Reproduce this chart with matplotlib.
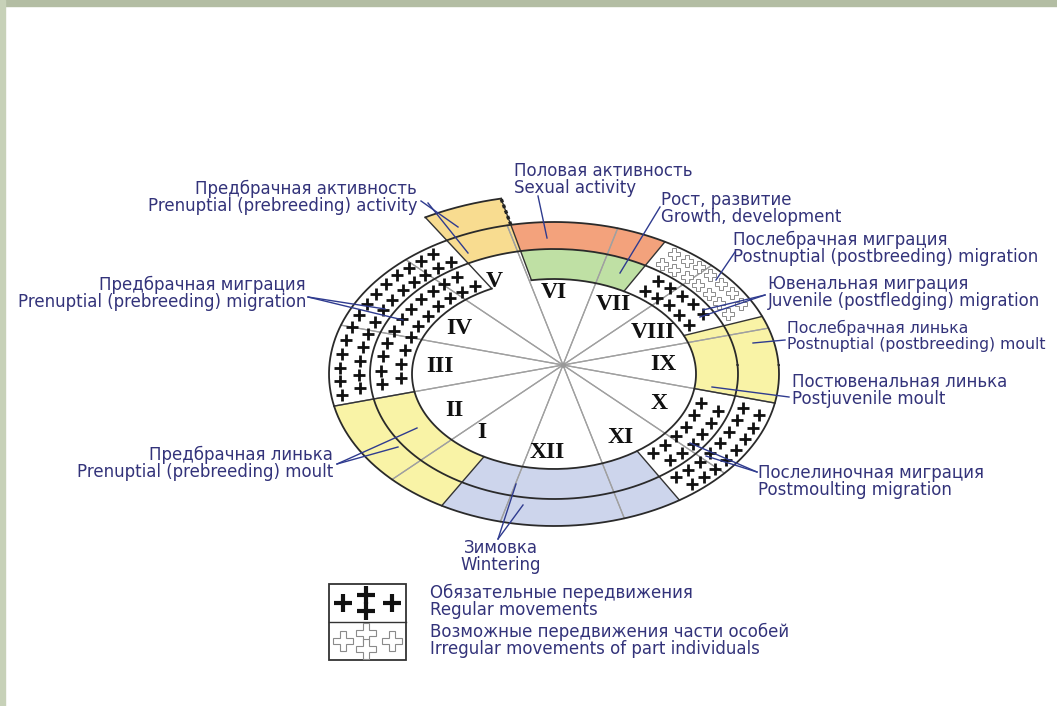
import numpy as np
import matplotlib
matplotlib.use('Agg')
import matplotlib.pyplot as plt
from matplotlib.patches import Polygon, Rectangle

# ---------------- data ----------------
months = ['I', 'II', 'III', 'IV', 'V', 'VI', 'VII', 'VIII', 'IX', 'X', 'XI', 'XII']
month_angles = [240, 210, 180, 150, 120, 90, 60, 30, 0, -30, -60, -90]

# ring 0 = inner ring, ring 1 = outer ring, ring 2 = protrusion beyond outer ring
seg_ring = [0, 0, 0, 0, 0, 0, 0,
            1, 1, 1, 1, 1, 1, 1, 1,
            2]
seg_start = [122, 195, 240, 300, 345, 20, 61,
             104, 122, 195, 240, 300, 345, 20, 61,
             104]
seg_end = [195, 240, 300, 345, 380, 61, 104,
           122, 195, 240, 300, 345, 380, 61, 104,
           122]
seg_kind = ['regular', 'moult', 'winter', 'regular', 'moult', 'regular', 'growth',
            'activity', 'regular', 'moult', 'winter', 'regular', 'moult', 'irregular', 'sexual',
            'activity']

kind_color = {'activity': '#f8dc90', 'moult': '#f9f3a6', 'winter': '#cdd5ec',
              'growth': '#bfe0a4', 'sexual': '#f3a27c', 'regular': '#ffffff',
              'irregular': '#ffffff'}

labels_ru = ['Половая активность', 'Рост, развитие', 'Предбрачная активность',
             'Предбрачная миграция', 'Послебрачная миграция', 'Ювенальная миграция',
             'Послебрачная линька', 'Постювенальная линька', 'Предбрачная линька',
             'Послелиночная миграция', 'Зимовка']
labels_en = ['Sexual activity', 'Growth, development', 'Prenuptial (prebreeding) activity',
             'Prenuptial (prebreeding) migration', 'Postnuptial (postbreeding) migration',
             'Juvenile (postfledging) migration', 'Postnuptial (postbreeding) moult',
             'Postjuvenile moult', 'Prenuptial (prebreeding) moult',
             'Postmoulting migration', 'Wintering']

legend_ru = ['Обязательные передвижения', 'Возможные передвижения части особей']
legend_en = ['Regular movements', 'Irregular movements of part individuals']

# ---------------- geometry ----------------
W, H = 1057, 706
fig = plt.figure(figsize=(W / 100, H / 100), dpi=100)
fig.patch.set_facecolor('white')
ax = fig.add_axes([0, 0, 1, 1])
ax.set_xlim(0, W)
ax.set_ylim(H, 0)
ax.axis('off')

HUB = (563.0, 365.0)
K = 0.67
CEN = (554.0, 374.0)
ELL = [(142.0, 95.0), (184.0, 125.0), (225.0, 152.0), (266.0, 179.0)]


def ray_point(theta, e):
    """Point where the ray from HUB at angle theta meets ellipse e (screen coords)."""
    a, b = e
    t = np.radians(theta)
    dx, dy = np.cos(t), -K * np.sin(t)
    p, q = (HUB[0] - CEN[0]) / a, (HUB[1] - CEN[1]) / b
    u, v = dx / a, dy / b
    A = u * u + v * v
    B = p * u + q * v
    C = p * p + q * q - 1
    s = (-B + np.sqrt(B * B - A * C)) / A
    return np.array([HUB[0] + s * dx, HUB[1] + s * dy])


def ring_pt(theta, ring, f):
    pin = ray_point(theta, ELL[ring])
    pout = ray_point(theta, ELL[ring + 1])
    return pin + f * (pout - pin)


def band_poly(t1, t2, ring):
    ts = np.linspace(t1, t2, 60)
    outer = [ring_pt(t, ring, 1.0) for t in ts]
    inner = [ring_pt(t, ring, 0.0) for t in ts[::-1]]
    return np.array(outer + inner)


def arc(e, t1, t2, **kw):
    ts = np.linspace(t1, t2, 200)
    pts = np.array([ray_point(t, e) for t in ts])
    ax.plot(pts[:, 0], pts[:, 1], **kw)


# frame (slide border)
ax.add_patch(Rectangle((0, 0), W, 6, color='#b3bda3', zorder=0))
ax.add_patch(Rectangle((0, 0), 5, H, color='#c7d1b8', zorder=0))

# colored segments
for r, s, e, k in zip(seg_ring, seg_start, seg_end, seg_kind):
    poly = band_poly(s, e, r)
    ax.add_patch(Polygon(poly, closed=True, facecolor=kind_color[k],
                         edgecolor='none', zorder=2))

# month spokes (through the rings)
for ang in month_angles:
    for d in (-15, 15):
        p = ray_point(ang + d, ELL[2])
        ax.plot([HUB[0], p[0]], [HUB[1], p[1]], color='#a0a0a0', lw=0.9, zorder=3)

# segment boundaries (radial)
for b in sorted(set(seg_start)):
    if b == 104 or b == 122:
        p1 = ray_point(b, ELL[1] if b == 104 else ELL[0])
        p2 = ray_point(b, ELL[3])
    else:
        p1 = ray_point(b, ELL[0])
        p2 = ray_point(b, ELL[2])
    ax.plot([p1[0], p2[0]], [p1[1], p2[1]], color='#333333', lw=1.0, zorder=4)
# green / orange left edge through the inner ring
p1, p2 = ray_point(104, ELL[0]), ray_point(104, ELL[1])
ax.plot([p1[0], p2[0]], [p1[1], p2[1]], color='#333333', lw=1.0, zorder=4)

# ruler-like right edge of the protrusion
p_a, p_b = ray_point(104, ELL[2]), ray_point(104, ELL[3])
ax.plot([p_a[0], p_b[0]], [p_a[1], p_b[1]], color='#222222', lw=2.4,
        ls=(0, (1.0, 0.8)), zorder=5)

# ellipse outlines (inner one left open under the V sector)
arc(ELL[0], 122, 104 + 360, color='#2a2a2a', lw=1.3, zorder=5)
for e in ELL[1:3]:
    arc(e, 0, 360, color='#2a2a2a', lw=1.3, zorder=5)
arc(ELL[3], 104, 122, color='#2a2a2a', lw=1.3, zorder=5)


# movement crosses
def crosses(t1, t2, ring, regular):
    pts = []
    for row, f in enumerate((0.27, 0.73)):
        tt = np.linspace(t1, t2, 300)
        P = np.array([ring_pt(t, ring, f) for t in tt])
        seg = np.r_[0, np.cumsum(np.hypot(*np.diff(P, axis=0).T))]
        step = 14.0
        start = step * (0.45 if row == 0 else 0.95)
        for L in np.arange(start, seg[-1] - 4, step):
            i = np.searchsorted(seg, L)
            pts.append(P[min(i, len(P) - 1)])
    pts = np.array(pts)
    if regular:
        ax.plot(pts[:, 0], pts[:, 1], ls='none', marker='+', ms=8, mew=2.0,
                color='#111111', zorder=6)
    else:
        ax.plot(pts[:, 0], pts[:, 1], ls='none', marker='P', ms=9, mew=0.7,
                mfc='white', mec='#8a8a8a', zorder=6)


for r, s, e, k in zip(seg_ring, seg_start, seg_end, seg_kind):
    if k == 'regular':
        crosses(s + 2, e - 2, r, True)
    elif k == 'irregular':
        crosses(s + 2, e - 2, r, False)

# hub
ax.plot([HUB[0]], [HUB[1]], marker='o', ms=2.5, color='#999999', zorder=6)

# month labels
label_angles = [231, 212, 181, 152, 119, 95, 61, 28, 0, -31, -62, -97]
label_frac = [0.82, 0.82, 0.82, 0.82, 1.06, 0.84, 0.82, 0.8, 0.76, 0.8, 0.82, 0.84]
for m, ang, fr in zip(months, label_angles, label_frac):
    p = ray_point(ang, ELL[0])
    q = np.array(HUB) + fr * (p - np.array(HUB))
    ax.text(q[0], q[1], m, fontsize=17, fontweight='bold', family='Liberation Serif',
            ha='center', va='center', color='#111111', zorder=7)

# annotations
TXT = '#33337a'
LN = '#2f3b8f'
FS = 12


def label(i, x, y, ha='left', fs=FS):
    ax.text(x, y, labels_ru[i], fontsize=fs, color=TXT, ha=ha, va='center',
            family='DejaVu Sans', zorder=8)
    ax.text(x, y + 17, labels_en[i], fontsize=fs, color=TXT, ha=ha, va='center',
            family='DejaVu Sans', zorder=8)


def lead(x0, y0, x1, y1):
    ax.plot([x0, x1], [y0, y1], color=LN, lw=1.0, zorder=8)


label(0, 514, 171)
lead(538, 196, 547, 238)
label(1, 661, 200)
lead(660, 207, 620, 273)
label(2, 417, 189, ha='right')
lead(421, 201, 458, 227)
lead(428, 203, 468, 253)
label(3, 306, 285, ha='right')
lead(308, 297, 403, 320)
lead(308, 297, 385, 309)
label(4, 733, 240)
lead(735, 252, 716, 280)
label(5, 768, 284)
lead(765, 295, 703, 310)
lead(765, 295, 700, 317)
label(6, 787, 328, fs=11.3)
lead(753, 343, 785, 340)
label(7, 792, 382)
lead(712, 387, 789, 397)
label(8, 333, 455, ha='right')
lead(337, 464, 417, 428)
lead(337, 464, 398, 447)
label(9, 758, 473)
lead(757, 472, 690, 443)
lead(757, 472, 706, 456)
ax.text(501, 548, labels_ru[10], fontsize=FS, color=TXT, ha='center', va='center',
        family='DejaVu Sans', zorder=8)
ax.text(501, 565, labels_en[10], fontsize=FS, color=TXT, ha='center', va='center',
        family='DejaVu Sans', zorder=8)
lead(498, 539, 516, 484)
lead(498, 539, 523, 505)

# legend
bx, by, bw, bh = 329, 584, 77, 76
ax.add_patch(Rectangle((bx, by), bw, bh, facecolor='white', edgecolor='#333333', lw=1.3, zorder=6))
ax.plot([bx, bx + bw], [by + bh / 2, by + bh / 2], color='#333333', lw=1.0, zorder=6)
top_pts = np.array([[bx + 14, by + 19], [bx + 37, by + 11], [bx + 37, by + 27], [bx + 63, by + 19]])
ax.plot(top_pts[:, 0], top_pts[:, 1], ls='none', marker='+', ms=13, mew=3,
        color='#111111', zorder=7)
bot_pts = top_pts + np.array([0, bh / 2])
ax.plot(bot_pts[:, 0], bot_pts[:, 1], ls='none', marker='P', ms=14, mew=0.8,
        mfc='white', mec='#8a8a8a', zorder=7)
ax.text(430, 593, legend_ru[0], fontsize=FS, color=TXT, va='center', family='DejaVu Sans')
ax.text(430, 610, legend_en[0], fontsize=FS, color=TXT, va='center', family='DejaVu Sans')
ax.text(430, 632, legend_ru[1], fontsize=FS, color=TXT, va='center', family='DejaVu Sans')
ax.text(430, 649, legend_en[1], fontsize=FS, color=TXT, va='center', family='DejaVu Sans')

fig.savefig('out.png', dpi=100, facecolor='white')
